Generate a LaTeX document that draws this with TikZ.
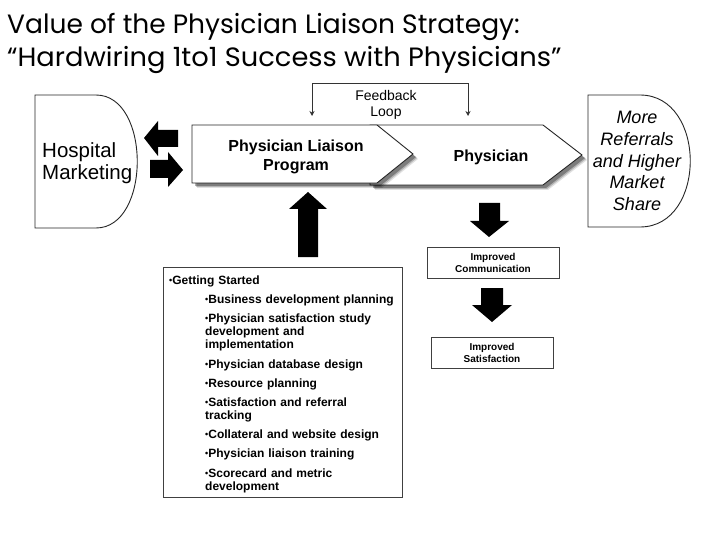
\documentclass[tikz,border=0pt]{standalone}
\usepackage{fontspec}
\setmainfont{Liberation Sans}
\newfontfamily\titlefont{Poppins}
\usetikzlibrary{shadows,arrows.meta}
\newcommand\bul{\raisebox{0.9pt}{\fontsize{9}{9}\selectfont•}}
\begin{document}
\begin{tikzpicture}[x=1pt,y=-1pt,
  outl/.style={draw=black!85, line width=0.9pt, fill=white},
  chev/.style={outl,
    drop shadow={shadow xshift=5pt, shadow yshift=-5pt, fill=black, opacity=.12},
    drop shadow={shadow xshift=4pt, shadow yshift=-4pt, fill=black, opacity=.2},
    drop shadow={shadow xshift=3pt, shadow yshift=-3pt, fill=black, opacity=.3}},
  blk/.style={fill=black},
  lbl/.style={align=center, inner sep=0pt},
  sbox/.style={draw=black!75, line width=1pt, fill=white},
  fb/.style={draw=black!80, line width=0.8pt, {Stealth[length=5pt,width=5pt]}-{Stealth[length=5pt,width=5pt]}}
]
\useasboundingbox[fill=white] (0,0) rectangle (720,540);

% title
\node[anchor=base west, inner sep=0pt, font=\titlefont\fontsize{26.5}{30}\selectfont] (t1) at (7,34) {Value of the Physician Liaison Strategy:};
\node[anchor=base west, inner sep=0pt, font=\titlefont\fontsize{26.5}{30}\selectfont, xscale=1.03] (t2) at (7,67) {“Hardwiring 1to1 Success with Physicians”};

% Hospital Marketing
\draw[outl] (35,95) -- (96,95) .. controls (151,95) and (151,228) .. (96,228) -- (35,228) -- cycle;
\node[anchor=west, align=left, inner sep=0pt, font=\fontsize{20.5}{22}\selectfont] (hm) at (42,163) {Hospital\\Marketing};

% More referrals
\draw[outl] (588,95) -- (640,95) .. controls (707,95) and (707,227) .. (640,227) -- (588,227) -- cycle;
\node[lbl, font=\itshape\fontsize{18}{21.7}\selectfont] (mr) at (637,161) {More\\Referrals\\and Higher\\Market\\Share};

% chevrons
\path[chev] (370,125) -- (543,125) -- (582,155) -- (543,185) -- (370,185) -- cycle;
\path[chev] (192,125) -- (377,125) -- (413,154) -- (377,183) -- (192,183) -- cycle;
\node[lbl, font=\bfseries\fontsize{16}{19}\selectfont] (plp) at (296,157) {Physician Liaison\\Program};
\node[lbl, font=\bfseries\fontsize{16}{19}\selectfont] (ph) at (491,157) {Physician};

% feedback loop
\coordinate (fbL) at (312,116);
\coordinate (fbR) at (468,116);
\draw[fb] (fbL) -- (312,83) -| (fbR);
\node[lbl, font=\fontsize{14}{16}\selectfont] (fbl) at (386,105) {Feedback\\Loop};

% double arrows
\fill[blk] (144,138) -- (158,121) -- (158,130) -- (178,130) -- (178,147) -- (158,147) -- (158,156) -- cycle;
\fill[blk] (183,170) -- (168,152) -- (168,160) -- (150,160) -- (150,178) -- (168,178) -- (168,187) -- cycle;

% up arrow
\fill[blk] (308,192) -- (327,209) -- (318,209) -- (318,257) -- (298,257) -- (298,209) -- (289,209) -- cycle;

% Getting started box
\node[sbox, anchor=north west, minimum width=239pt, minimum height=230pt] (gsb) at (163,267) {};
\node[anchor=north west, inner sep=0pt, text width=230pt, font=\bfseries\fontsize{12}{13}\selectfont] (gs) at (169,276) {\raggedright
\bul Getting Started\par\vspace{6pt}
\leftskip=36pt
\bul Business development planning\par\vspace{6pt}
\bul Physician satisfaction study\newline development and\newline implementation\par\vspace{6.5pt}
\bul Physician database design\par\vspace{6pt}
\bul Resource planning\par\vspace{6.5pt}
\bul Satisfaction and referral\newline tracking\par\vspace{6pt}
\bul Collateral and website design\par\vspace{6pt}
\bul Physician liaison training\par\vspace{6.5pt}
\bul Scorecard and metric\newline development\par};

% right column
\fill[blk] (489,237) -- (509,221) -- (500,221) -- (500,203) -- (479,203) -- (479,221) -- (470,221) -- cycle;
\node[sbox, minimum width=132pt, minimum height=31pt, inner sep=0pt] (ic) at (493,262.5) {};
\node[lbl, font=\bfseries\fontsize{10}{12}\selectfont] (ict) at (493,263) {Improved\\Communication};
\fill[blk] (492,322) -- (512,305) -- (503,305) -- (503,288) -- (481,288) -- (481,305) -- (472,305) -- cycle;
\node[sbox, minimum width=122pt, minimum height=31pt, inner sep=0pt] (is) at (492,352.5) {};
\node[lbl, font=\bfseries\fontsize{10}{12}\selectfont] (ist) at (492,353) {Improved\\Satisfaction};
\end{tikzpicture}
\end{document}
